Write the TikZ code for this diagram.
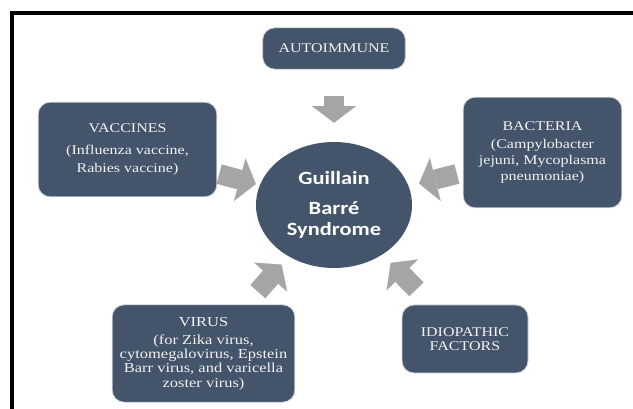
\documentclass[tikz,border=0pt]{standalone}
\usepackage{fontspec}
\setmainfont[FakeStretch=1.2]{Liberation Serif}
\newfontfamily\gbsfont[FakeStretch=1.2]{Carlito}
\usetikzlibrary{shapes.geometric}
\usetikzlibrary{arrows.meta}
\definecolor{slate}{HTML}{44546A}
\definecolor{arrowgray}{HTML}{A5A5A5}
\definecolor{boxtext}{HTML}{F2F2F2}

\begin{document}
\begin{tikzpicture}[x=0.75pt, y=-0.75pt,
  cause/.style={rectangle, rounded corners=9pt, fill=slate, draw=slate!25, line width=0.6pt, text=boxtext, align=center, inner sep=0pt},
  push/.style={draw=arrowgray, line width=15pt, -{Triangle[width=33pt,length=12.5pt,line width=0.1pt]}}]
         \useasboundingbox (0,0) rectangle (633,409);
         \draw[line width=2.5pt] (633,13) -| (12,409);
         \node[ellipse, fill=slate, minimum width=117pt, minimum height=94.5pt, inner sep=0pt, text=white, align=center, font=\gbsfont\bfseries\fontsize{14}{15.75}\selectfont] (gbs) at (334,205) {Guillain\\[7pt]Barré\\Syndrome};
         \node[cause, minimum width=107pt, minimum height=31pt, font=\fontsize{10}{12}\selectfont] (auto) at (334,48.5) {AUTOIMMUNE};
         \node[cause, minimum width=134pt, minimum height=71pt, font=\fontsize{10}{13.5}\selectfont] (vacc) at (127.5,149.5) {VACCINES\\[3pt](Influenza vaccine,\\Rabies vaccine)};
         \node[cause, minimum width=119pt, minimum height=83pt, font=\fontsize{10}{12}\selectfont] (bact) at (542.5,152.5) {BACTERIA\\[2pt](Campylobacter\\jejuni, Mycoplasma\\pneumoniae)};
         \node[cause, minimum width=137pt, minimum height=73pt, font=\fontsize{10.3}{10.7}\selectfont] (virus) at (203.5,353.5) {VIRUS\\[3pt](for Zika virus,\\cytomegalovirus, Epstein\\Barr virus, and varicella\\zoster virus)};
         \node[cause, minimum width=94.5pt, minimum height=51pt, font=\fontsize{10}{10}\selectfont] (idio) at (465,339) {IDIOPATHIC\\FACTORS};
         \draw[push, shorten <=19.5pt, shorten >=14.25pt] (auto) -- (gbs);
         \draw[push, shorten <=1.5pt, shorten >=3pt] (vacc) -- (gbs);
         \draw[push, shorten <=4.5pt, shorten >=8pt] (bact) -- (gbs);
         \draw[push, shorten <=12.75pt, shorten >=8pt] (virus) -- (gbs);
         \draw[push, shorten <=16pt, shorten >=8.7pt] (idio) -- (gbs);
\end{tikzpicture}
\end{document}
